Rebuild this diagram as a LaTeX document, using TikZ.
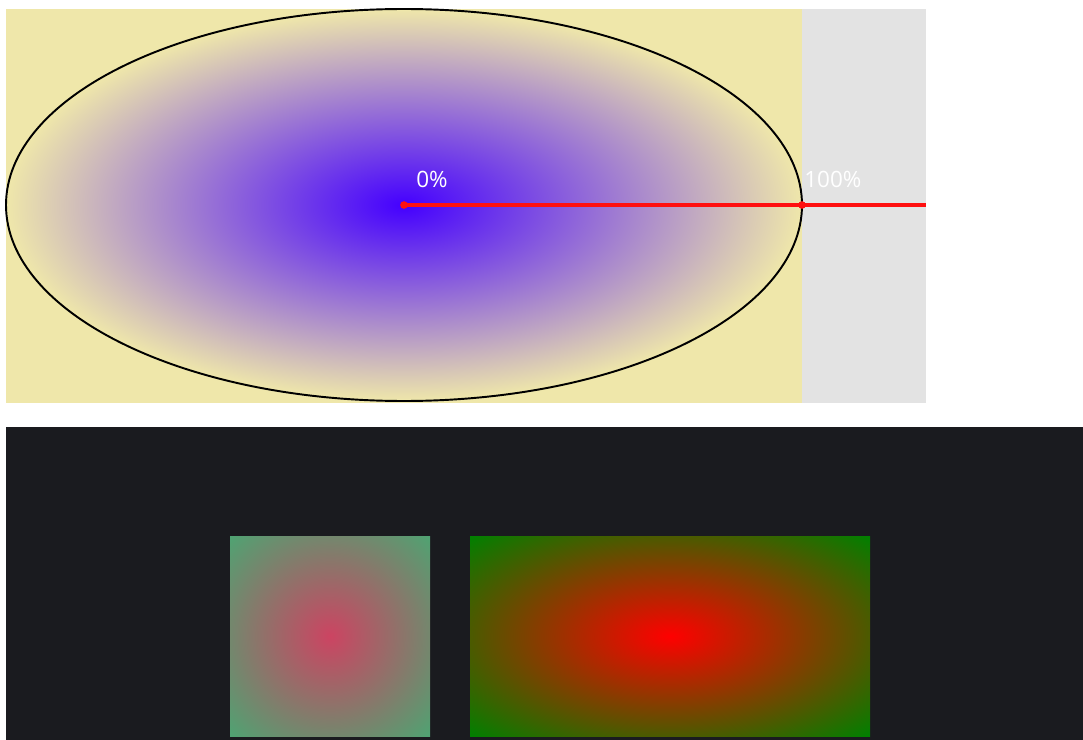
\documentclass[tikz,border=0pt]{standalone}
\usepackage{fontspec}
\setmainfont{Open Sans}
\usetikzlibrary{positioning}

\definecolor{paleback}{HTML}{EFE7AA}
\definecolor{greyback}{HTML}{E3E3E3}
\definecolor{darkback}{HTML}{1A1B1F}
\definecolor{ovalcore}{HTML}{4400FF}
\definecolor{sqcore}{HTML}{CC4462}
\definecolor{sqrim}{HTML}{4FA372}
\definecolor{rectcore}{HTML}{FF0000}
\definecolor{rectrim}{HTML}{008000}
\definecolor{raycol}{HTML}{FF1010}

\pgfdeclareradialshading{ovalfade}{\pgfpoint{0bp}{0bp}}{color(0bp)=(ovalcore); color(25bp)=(paleback); color(50bp)=(paleback)}
\pgfdeclareradialshading{sqfade}{\pgfpoint{0bp}{0bp}}{color(0bp)=(sqcore); color(35.36bp)=(sqrim); color(50bp)=(sqrim)}
\pgfdeclareradialshading{rectfade}{\pgfpoint{0bp}{0bp}}{color(0bp)=(rectcore); color(35.36bp)=(rectrim); color(50bp)=(rectrim)}

\begin{document}
\begin{tikzpicture}[x=0.02cm,y=-0.02cm,
   pct/.style={text=white,font=\fontsize{12.8}{15}\selectfont,inner sep=0pt},
   stop/.style={circle,fill=raycol,inner sep=0pt,minimum size=4.2pt},
   ray/.style={draw=raycol,line width=2.1pt}]
\useasboundingbox (0,0) rectangle (1083,740);

% top panel
\fill[paleback] (6,9) rectangle (802,403);
\fill[greyback] (802,9) rectangle (926,403);
\shade[shading=ovalfade] (404,205) ellipse [x radius=398, y radius=196];
\draw[line width=1.1pt] (404,205) ellipse [x radius=398, y radius=196];

\coordinate (rayend) at (926,205);
\node[stop] (c0) at (404,205) {};
\node[stop] (c100) at (802,205) {};
\draw[ray] (c0.center) -- (rayend);
\node[stop] at (c0) {};
\node[stop] at (c100) {};
\node[pct,anchor=base west] (lab0) at (416,188) {0\%};
\node[pct,anchor=base west] (lab100) at (804,188) {100\%};

% bottom panel
\fill[darkback] (6,427) rectangle (1083,740);
\shade[shading=sqfade] (230,536) rectangle (430,736);
\shade[shading=rectfade] (470,536) rectangle (870,736);
\end{tikzpicture}
\end{document}
